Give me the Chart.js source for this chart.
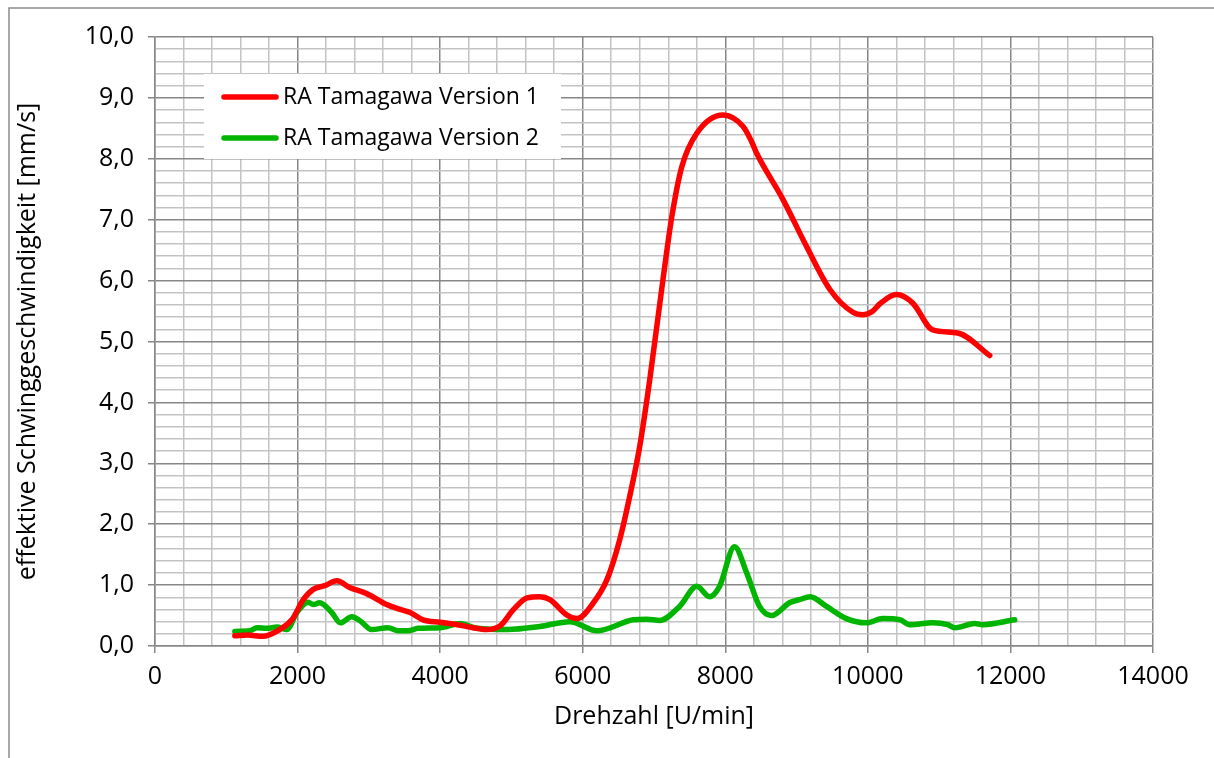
<!DOCTYPE html>
<html>
<head>
<meta charset="utf-8">
<script src="https://cdn.jsdelivr.net/npm/chart.js@4/dist/chart.umd.min.js"></script>
<style>
  html, body { margin: 0; padding: 0; background: #ffffff; }
  #wrap { position: relative; width: 1214px; height: 758px; }
</style>
</head>
<body>
<div id="wrap"><canvas id="c" width="1214" height="758"></canvas></div>
<script>
// ---- data ----
const seriesNames = ['RA Tamagawa Version 1', 'RA Tamagawa Version 2'];

const rpmV1 = [1120, 1300, 1510, 1750, 1920, 2080, 2220, 2380, 2550, 2730, 2970, 3250, 3440, 3580, 3760, 4000, 4240, 4460, 4650, 4840, 5030, 5220, 5400, 5540, 5775, 5920, 6150, 6340, 6520, 6660, 6800, 6940, 7125, 7250, 7390, 7600, 7970, 8250, 8370, 8440, 8810, 9140, 9470, 9790, 9930, 10060, 10170, 10400, 10630, 10910, 11260, 11710];
const velV1 = [0.17, 0.18, 0.16, 0.27, 0.43, 0.76, 0.93, 0.99, 1.07, 0.96, 0.86, 0.68, 0.60, 0.55, 0.43, 0.39, 0.35, 0.30, 0.27, 0.33, 0.60, 0.79, 0.81, 0.76, 0.51, 0.45, 0.71, 1.09, 1.75, 2.46, 3.28, 4.37, 6.01, 7.05, 7.87, 8.42, 8.72, 8.53, 8.28, 8.09, 7.33, 6.56, 5.85, 5.48, 5.44, 5.49, 5.62, 5.77, 5.63, 5.19, 5.14, 4.77];

const rpmV2 = [1120, 1330, 1430, 1570, 1710, 1850, 1990, 2150, 2220, 2310, 2480, 2600, 2760, 2880, 3040, 3270, 3410, 3550, 3690, 4000, 4280, 4520, 4940, 5400, 5820, 6200, 6710, 6900, 7080, 7360, 7600, 7780, 7920, 8130, 8300, 8480, 8650, 8900, 9040, 9190, 9420, 9700, 9980, 10210, 10450, 10590, 10910, 11120, 11220, 11500, 11610, 12060];
const velV2 = [0.24, 0.25, 0.30, 0.29, 0.31, 0.27, 0.55, 0.72, 0.68, 0.71, 0.55, 0.38, 0.48, 0.41, 0.27, 0.30, 0.25, 0.25, 0.29, 0.30, 0.37, 0.29, 0.27, 0.32, 0.40, 0.25, 0.43, 0.44, 0.42, 0.65, 0.98, 0.81, 0.98, 1.63, 1.20, 0.65, 0.50, 0.71, 0.76, 0.81, 0.65, 0.45, 0.38, 0.45, 0.43, 0.35, 0.38, 0.35, 0.30, 0.37, 0.35, 0.43];

const xTitle = 'Drehzahl [U/min]';
const yTitle = 'effektive Schwinggeschwindigkeit [mm/s]';
const xMin = 0, xMax = 14000, xMajor = 2000, xMinor = 400;
const yMin = 0, yMax = 10, yMajor = 1, yMinor = 0.2;

// ---- styling ----
const FONT = "'Open Sans', 'Liberation Sans', sans-serif";
const MAJOR = '#878787';
const MINOR = '#c3c3c3';
const isMajor = (v, step) => Math.abs(v / step - Math.round(v / step)) < 1e-6;

const toPts = (xs, ys) => xs.map((x, i) => ({ x: x, y: ys[i] }));

const frame = {
  id: 'frame',
  beforeDraw(chart) {
    const ctx = chart.ctx;
    ctx.save();
    ctx.fillStyle = '#ffffff';
    ctx.fillRect(0, 0, chart.width, chart.height);
    ctx.strokeStyle = '#8c8c8c';
    ctx.lineWidth = 1.5;
    ctx.beginPath();
    ctx.moveTo(9, chart.height + 5);
    ctx.lineTo(9, 8);
    ctx.lineTo(chart.width + 5, 8);
    ctx.stroke();
    ctx.restore();
  }
};

const boxLegend = {
  id: 'boxLegend',
  afterDatasetsDraw(chart) {
    const ctx = chart.ctx;
    const left = 204, top = 74, w = 357, h = 85;
    ctx.save();
    ctx.fillStyle = '#ffffff';
    ctx.fillRect(left, top, w, h);
    ctx.font = '23px ' + FONT;
    ctx.textBaseline = 'middle';
    ctx.textAlign = 'left';
    chart.data.datasets.forEach((ds, i) => {
      const y = top + 23 + i * 41;
      ctx.strokeStyle = ds.borderColor;
      ctx.lineWidth = 5.5;
      ctx.lineCap = 'round';
      ctx.beginPath();
      ctx.moveTo(224, y);
      ctx.lineTo(276, y);
      ctx.stroke();
      ctx.fillStyle = '#000000';
      ctx.fillText(ds.label, 283, y);
    });
    ctx.restore();
  }
};

new Chart(document.getElementById('c'), {
  type: 'line',
  data: {
    datasets: [
      { label: seriesNames[0], data: toPts(rpmV1, velV1), borderColor: '#ff0000', backgroundColor: '#ff0000',
        borderWidth: 5.5, pointRadius: 0, cubicInterpolationMode: 'monotone', fill: false,
        borderCapStyle: 'round', borderJoinStyle: 'round' },
      { label: seriesNames[1], data: toPts(rpmV2, velV2), borderColor: '#00b400', backgroundColor: '#00b400',
        borderWidth: 5.5, pointRadius: 0, cubicInterpolationMode: 'monotone', fill: false,
        borderCapStyle: 'round', borderJoinStyle: 'round' }
    ]
  },
  options: {
    responsive: false,
    devicePixelRatio: 1,
    animation: false,
    layout: { padding: { left: 0, top: 37, right: 61, bottom: 0 } },
    plugins: { legend: { display: false }, tooltip: { enabled: false } },
    scales: {
      x: {
        type: 'linear', min: xMin, max: xMax,
        afterFit(s) { s.height = 112; },
        ticks: {
          stepSize: xMinor, autoSkip: false, maxRotation: 0, padding: 9,
          color: '#000000', font: { family: FONT, size: 25 },
          callback: (v) => isMajor(v, xMajor) ? String(v) : ''
        },
        grid: {
          color: (c) => isMajor(c.tick.value, xMajor) ? MAJOR : MINOR,
          tickColor: (c) => isMajor(c.tick.value, xMajor) ? MAJOR : 'rgba(0,0,0,0)',
          lineWidth: 1.5, tickLength: 7
        },
        border: { display: true, color: MAJOR, width: 1.5 },
        title: { display: true, text: xTitle, color: '#000000', font: { family: FONT, size: 25 },
                 padding: { top: 0, bottom: 26 } }
      },
      y: {
        type: 'linear', min: yMin, max: yMax,
        afterFit(s) { s.width = 155; },
        ticks: {
          stepSize: yMinor, autoSkip: false, padding: 14,
          color: '#000000', font: { family: FONT, size: 25 },
          callback: (v) => isMajor(v, yMajor) ? Number(v).toFixed(1).replace('.', ',') : ''
        },
        grid: {
          color: (c) => isMajor(c.tick.value, yMajor) ? MAJOR : MINOR,
          tickColor: (c) => isMajor(c.tick.value, yMajor) ? MAJOR : 'rgba(0,0,0,0)',
          lineWidth: 1.5, tickLength: 7
        },
        border: { display: true, color: MAJOR, width: 1.5 },
        title: { display: true, text: yTitle, color: '#000000', font: { family: FONT, size: 25 },
                 padding: { top: 13, bottom: 0 } }
      }
    }
  },
  plugins: [frame, boxLegend]
});
</script>
</body>
</html>
